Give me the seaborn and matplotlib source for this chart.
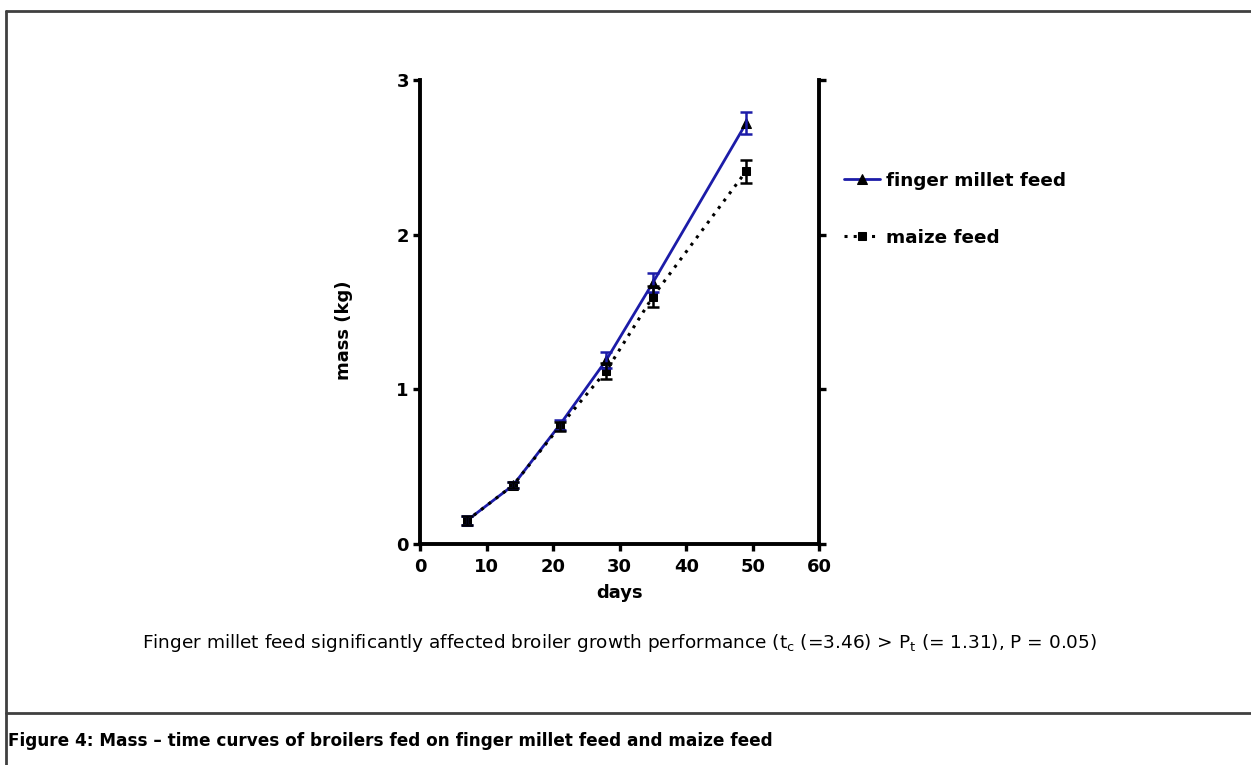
import matplotlib
matplotlib.use("Agg")
import matplotlib.pyplot as plt
from matplotlib.lines import Line2D
import seaborn as sns
import pandas as pd

days = [7, 14, 21, 28, 35, 49]
finger_millet = [0.15, 0.38, 0.77, 1.19, 1.69, 2.72]
finger_millet_err = [0.03, 0.02, 0.03, 0.05, 0.06, 0.07]
maize = [0.15, 0.38, 0.76, 1.12, 1.60, 2.41]
maize_err = [0.03, 0.02, 0.03, 0.05, 0.07, 0.075]
series_names = ["finger millet feed", "maize feed"]
x_ticks = [0, 10, 20, 30, 40, 50, 60]
y_ticks = [0, 1, 2, 3]

sns.set_style("white")
plt.rcParams['font.family'] = ['DejaVu Sans']
plt.rcParams['mathtext.fontset'] = 'dejavusans'
plt.rcParams['text.color'] = 'black'
plt.rcParams['axes.labelcolor'] = 'black'
plt.rcParams['xtick.color'] = 'black'
plt.rcParams['ytick.color'] = 'black'

W, H = 1251, 765
fig = plt.figure(figsize=(W / 100, H / 100), dpi=100)
ax_top, ax_bot, ax_left, ax_right = 80, 544, 420, 819.3
ax = fig.add_axes([ax_left / W, 1 - ax_bot / H, (ax_right - ax_left) / W, (ax_bot - ax_top) / H])

df = pd.DataFrame({
    "days": days * 2,
    "mass": finger_millet + maize,
    "feed": [series_names[0]] * len(days) + [series_names[1]] * len(days),
})

blue = "#1c1ca8"
sns.lineplot(data=df[df.feed == series_names[0]], x="days", y="mass", ax=ax,
             color=blue, lw=2.0, marker="^", markersize=7,
             markerfacecolor="black", markeredgecolor="black", label=series_names[0])
sns.lineplot(data=df[df.feed == series_names[1]], x="days", y="mass", ax=ax,
             color="black", lw=2.2, linestyle=(0, (1, 2)), marker="s", markersize=6,
             markerfacecolor="black", markeredgecolor="black", label=series_names[1])

ax.errorbar(days, finger_millet, yerr=finger_millet_err, fmt="none",
            ecolor=blue, elinewidth=1.8, capsize=4, capthick=1.8, zorder=3)
ax.errorbar(days, maize, yerr=maize_err, fmt="none",
            ecolor="black", elinewidth=1.8, capsize=4, capthick=1.8, zorder=3)

ax.set_xlim(0, 60)
ax.set_ylim(0, 3)
ax.set_xticks(x_ticks)
ax.set_yticks(y_ticks)
ax.set_xticklabels([str(t) for t in x_ticks], fontsize=13, fontweight="heavy")
ax.set_yticklabels([str(t) for t in y_ticks], fontsize=13, fontweight="heavy")

for side in ["left", "bottom", "right"]:
    ax.spines[side].set_visible(True)
    ax.spines[side].set_linewidth(2.8)
    ax.spines[side].set_color("black")
ax.spines["top"].set_visible(False)
ax.tick_params(axis="both", which="both", direction="out", length=5, width=2.4,
               colors="black", left=True, bottom=True, right=True,
               labelright=False)
ax.tick_params(axis="x", pad=5)
ax.tick_params(axis="y", pad=3)

ax.set_xlabel("days", fontsize=13, fontweight="bold", labelpad=6)
ax.set_ylabel("mass (kg)", fontsize=13, fontweight="bold")
ax.yaxis.set_label_coords(-0.168, 0.46)

leg = ax.legend(loc="upper left", bbox_to_anchor=(827 / W, 1 - 155 / H),
                bbox_transform=fig.transFigure, frameon=False,
                handlelength=2.0, handletextpad=0.3, labelspacing=2.15,
                prop={"size": 13.2, "weight": "bold"})

fig.text(620 / W, 1 - 643 / H,
         r"Finger millet feed significantly affected broiler growth performance (t$_\mathregular{c}$ (=3.46) > P$_\mathregular{t}$ (= 1.31), P = 0.05)",
         ha="center", va="center", fontsize=13.3)

fig.text(8 / W, 1 - 741 / H,
         "Figure 4: Mass \u2013 time curves of broilers fed on finger millet feed and maize feed",
         ha="left", va="center", fontsize=12.2, fontweight="bold")

border_kw = dict(color="#404040", lw=2.0, transform=fig.transFigure)
fig.add_artist(Line2D([5.5 / W, 5.5 / W], [0, 1 - 10.5 / H], **border_kw))
fig.add_artist(Line2D([5.5 / W, 1], [1 - 10.5 / H, 1 - 10.5 / H], **border_kw))
fig.add_artist(Line2D([5.5 / W, 1], [1 - 712.5 / H, 1 - 712.5 / H], **border_kw))

fig.savefig("out.png", dpi=100)
